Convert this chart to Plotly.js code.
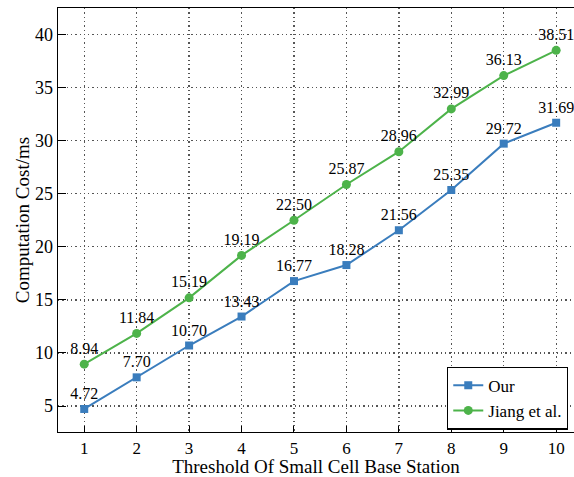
<!DOCTYPE html>
<html><head><meta charset="utf-8">
<script src="https://cdn.plot.ly/plotly-3.0.1.min.js"></script>
<style>body{margin:0;background:#fff}#c{width:574px;height:477px}</style>
</head><body><div id="c"></div>
<script>
const thresholds = [1,2,3,4,5,6,7,8,9,10];
const ourCost = [4.72,7.70,10.70,13.43,16.77,18.28,21.56,25.35,29.72,31.69];
const jiangCost = [8.94,11.84,15.19,19.19,22.50,25.87,28.96,32.99,36.13,38.51];
const yTicks = [5,10,15,20,25,30,35,40];
const fontFam = '"Liberation Serif", "Times New Roman", serif';
function mk(name, y, color, symbol, size){
  return {x: thresholds, y: y, name: name, type:'scatter', mode:'lines+markers+text',
    text: y.map(v=>v.toFixed(2)), textposition:'top center',
    textfont:{family:fontFam,size:16,color:'#000'},
    line:{color:color,width:2}, marker:{color:color,symbol:symbol,size:size}, cliponaxis:false};
}
const data = [mk('Our', ourCost, '#3a7dbd', 'square', 8), mk('Jiang et al.', jiangCost, '#4db34a', 'circle', 9)];
const gridStyle = {showgrid:true, gridcolor:'#555', griddash:'1.3px,3px', gridwidth:1.3};
const layout = {
  width:574, height:477, margin:{l:58,r:0,t:8,b:45},
  paper_bgcolor:'#fff', plot_bgcolor:'#fff',
  font:{family:fontFam,size:18,color:'#000'},
  showlegend:true,
  legend:{x:0.754,y:0.08,xanchor:'left',yanchor:'middle',bordercolor:'#000',borderwidth:1.2,bgcolor:'#fff',
    font:{family:fontFam,size:17}, tracegroupgap:0},
  xaxis:Object.assign({range:[0.5,10.34], tickvals:thresholds, ticks:'inside', ticklen:6, tickcolor:'#000',
    tickfont:{family:fontFam,size:17},
    showline:true, linecolor:'#000', linewidth:1.3, mirror:true, zeroline:false,
    title:{text:'Threshold Of Small Cell Base Station', font:{family:fontFam,size:19}, standoff:3}}, gridStyle),
  yaxis:Object.assign({range:[2.55,42.5], tickvals:yTicks, ticks:'inside', ticklen:8, tickcolor:'#000',
    showline:true, linecolor:'#000', linewidth:1.3, mirror:false, zeroline:false,
    title:{text:'Computation Cost/ms', font:{family:fontFam,size:19}, standoff:0}}, gridStyle)
};
Plotly.newPlot('c', data, layout, {displayModeBar:false, staticPlot:true});
</script></body></html>
